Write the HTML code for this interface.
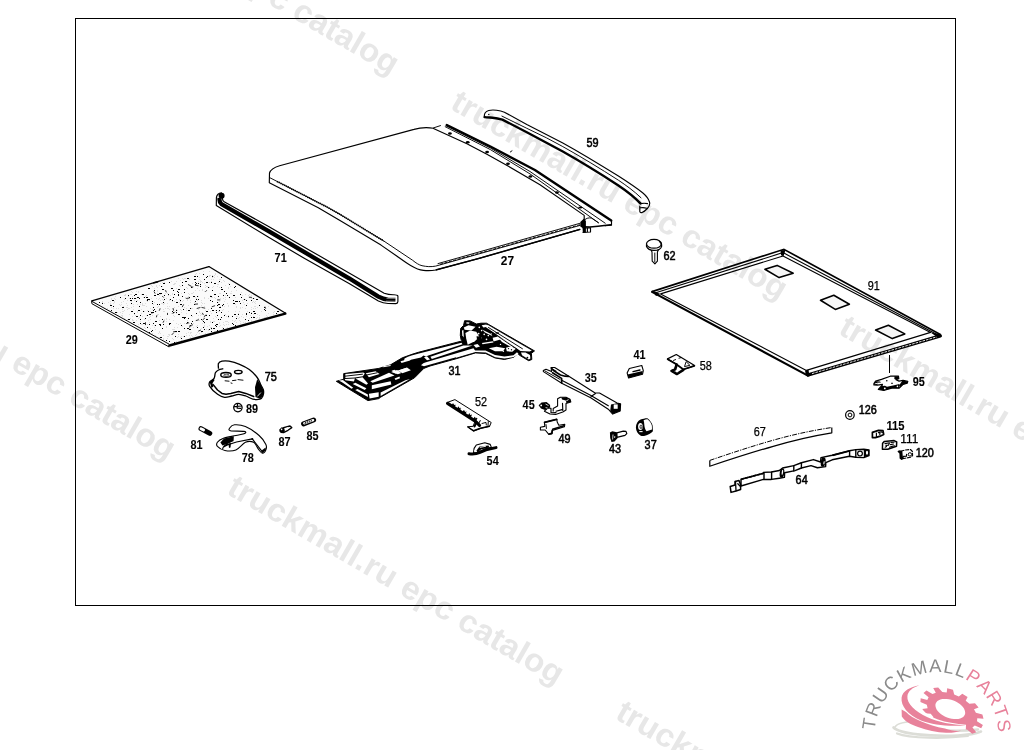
<!DOCTYPE html>
<html><head><meta charset="utf-8"><title>parts</title>
<style>
html,body{margin:0;padding:0;background:#fff;}
body{width:1024px;height:750px;overflow:hidden;position:relative;font-family:"Liberation Sans",sans-serif;}
svg{position:absolute;left:0;top:0;display:block;will-change:transform}
.wm text{font-family:"Liberation Sans",sans-serif;font-weight:bold;font-size:32.5px;fill:#e7e7e7;}
.lb text{font-family:"Liberation Sans",sans-serif;font-size:12px;fill:#000;stroke:#000;stroke-linejoin:round}
.lb .b{font-weight:bold;stroke-width:0.1}
.lb .m{font-weight:normal;stroke-width:0.55}
.lb .r{font-weight:normal;stroke-width:0.25}
.p{fill:none;stroke:#000;stroke-width:1.15;stroke-linecap:round;stroke-linejoin:round}
.t{fill:none;stroke:#000;stroke-width:0.95;stroke-linecap:round;stroke-linejoin:round}
.h{fill:none;stroke:#000;stroke-width:1.6;stroke-linecap:round;stroke-linejoin:round}
.hh{fill:none;stroke:#000;stroke-width:2.4;stroke-linecap:round;stroke-linejoin:round}
.w{fill:#fff;stroke:#000;stroke-width:1;stroke-linejoin:round}
.k{fill:#000;stroke:none}
</style></head><body>
<svg width="1024" height="750" viewBox="0 0 1024 750">
<g class="wm">
<text transform="translate(60.5 -117.0) rotate(30.2)" textLength="382.5" lengthAdjust="spacingAndGlyphs">truckmall.ru epc catalog</text>
<text transform="translate(-162.9 268.0) rotate(30.2)" textLength="382.5" lengthAdjust="spacingAndGlyphs">truckmall.ru epc catalog</text>
<text transform="translate(-386.2 653.0) rotate(30.2)" textLength="382.5" lengthAdjust="spacingAndGlyphs">truckmall.ru epc catalog</text>
<text transform="translate(672.2 -277.0) rotate(30.2)" textLength="382.5" lengthAdjust="spacingAndGlyphs">truckmall.ru epc catalog</text>
<text transform="translate(448.9 108.0) rotate(30.2)" textLength="382.5" lengthAdjust="spacingAndGlyphs">truckmall.ru epc catalog</text>
<text transform="translate(225.5 493.0) rotate(30.2)" textLength="382.5" lengthAdjust="spacingAndGlyphs">truckmall.ru epc catalog</text>
<text transform="translate(2.2 878.0) rotate(30.2)" textLength="382.5" lengthAdjust="spacingAndGlyphs">truckmall.ru epc catalog</text>
<text transform="translate(1060.5 -52.0) rotate(30.2)" textLength="382.5" lengthAdjust="spacingAndGlyphs">truckmall.ru epc catalog</text>
<text transform="translate(837.2 333.0) rotate(30.2)" textLength="382.5" lengthAdjust="spacingAndGlyphs">truckmall.ru epc catalog</text>
<text transform="translate(613.9 718.0) rotate(30.2)" textLength="382.5" lengthAdjust="spacingAndGlyphs">truckmall.ru epc catalog</text>
</g>
<rect x="75.5" y="18.5" width="880" height="587" fill="none" stroke="#000" stroke-width="1" shape-rendering="crispEdges"/>
<!-- 10_panel27.svg -->
<g id="p27">
<!-- outer outline -->
<path class="p" d="M433.5 128.2 C428 127.4 420 127.6 414 129.4 L279.6 165.7 C274.5 167.2 270.5 169.8 269.5 173 L269.3 182.8 L318.3 207.7 L340 220.5 L381 245.1 L396.7 256 C402 259.8 406.5 263.3 411.1 265.8 C415 268.2 419 270 423.4 270.4 C427.5 270.8 431.5 270.8 435.7 270 L480 258.1 L580 229.4"/>
<path d="M435.7 270 L480 258.1 L580 229.4" fill="none" stroke="#000" stroke-width="1.5"/>
<!-- inner left/bottom line -->
<path class="t" d="M269.6 177.6 L327.7 207.4 L340 214.4 L383.8 241 L412.5 260.2 C416 263 419 265 422 265.7 C426.5 266.7 431 267 435.7 266.1 L480 253.6 L580 225.4"/>
<path d="M277 181.4 L327.7 207.4 L340 214.4 L383.8 241" fill="none" stroke="#000" stroke-width="1.7" stroke-dasharray="1.1 0.9"/>
<path d="M440 264.3 L480 253 L580 224.7" fill="none" stroke="#000" stroke-width="0.9" stroke-dasharray="3 1.6"/>
<path class="t" d="M438 263.6 L480 251.7 L579.6 223.4"/>
<!-- right edge strip -->
<path class="p" d="M433.5 128.5 L466.9 143.7 L486.9 154.3 L508 166 L540 184.8 L584.2 215.4 L584.2 220"/>
<path class="t" d="M433.5 127.9 L440.5 125.6 M445.2 126.7 L490.4 149.6 L530 173.9 L598.4 222.7"/>
<path class="t" d="M446 125.8 L490.4 148 L530 171.5 L605.2 223.2"/>
<path class="hh" d="M446.8 125 L490.4 146.5 L534.9 170 L611.2 220.6"/>
<path class="p" d="M611.5 220.8 L611.5 225.2 L605.2 225.8"/>
<path class="h" d="M610.5 224.8 L598 226.2 L590 227 L584 226.8"/>
<path class="t" d="M584.7 219.8 C586.5 218 589 217.6 591.5 218.1 L598.4 222.7 M510.3 152 L512 150.8"/>
<path class="k" d="M580.3 222 L584 218.6 L585.9 221 L585.9 232.6 L582.8 232.6 L582.6 228 L580.3 226.5 Z"/>
<path class="p" d="M583 227.8 L590.5 227.8 L590.5 232 L583 232.5 M587.4 227.8 L587.4 232"/>
<g class="k">
<ellipse cx="449.9" cy="133.5" rx="1.9" ry="1.25"/><ellipse cx="467.7" cy="142.2" rx="1.9" ry="1.25"/>
<ellipse cx="487.1" cy="152" rx="1.9" ry="1.25"/><ellipse cx="508" cy="163.7" rx="1.9" ry="1.25"/>
<ellipse cx="530.4" cy="176.6" rx="1.9" ry="1.25"/><ellipse cx="556.9" cy="192.5" rx="1.9" ry="1.25"/>
<ellipse cx="580.3" cy="207.6" rx="2.1" ry="1"/>
</g>
</g>

<!-- 11_strip59.svg -->
<g id="p59">
<path class="p" d="M484.3 116.2 C484.2 113.8 485.6 111.5 488.7 110.5 C491.5 109.8 494 109.9 496.6 110.3 C499.5 110.8 502 111.4 504.4 112.2 L526.8 124.4 L562.8 142.9 C582 153.5 600 164.5 618.4 176.1 C627 181.6 635.5 187.3 642.6 192.8 C646 195.6 648.4 198.6 649.5 202 C650.2 204.6 649.3 206.6 647.4 208.5 C645.8 210.2 644 211.7 642.1 212.6 C641 212.9 640 212.4 639.8 211.4 L639.8 206.1"/>
<path class="hh" d="M484.6 117.1 C487 117.6 490 117.5 492.6 117.7 C496 118.1 499.4 118.8 502.4 119.6 L526.8 132.2 L562.8 151.5 C582 162.3 600 173.5 618.4 185.4 C626 190.5 634 196.4 640.4 203.4"/>
<path class="t" d="M501.9 116.1 L526.8 128.3 L546.4 137.8 L562.8 146.6 C582 157.3 600 168.4 618.4 180.2 C626 185.3 634 191 641 197.8"/>
<path class="p" d="M640.4 203.6 C642.5 203.2 645 203 647.5 203.6 M640.2 207.8 C642.5 207.4 644.8 207.5 646.6 208.2"/>
<circle class="k" cx="488.8" cy="114.4" r="0.7"/>
</g>

<!-- 12_strip71.svg -->
<g id="p71">
<path class="p" d="M221.5 192.9 C218.8 193 216.8 195 216.4 197.7 L216.3 205.5 L268.6 237.2 L303.8 258 L349.1 283.5 L378.4 301 C381.5 302.4 384.5 303.2 388.1 303.5 L395.9 303.6 C397.3 303.5 397.9 302.8 397.9 301.5 L397.9 295.9 C397.5 295 396.5 294.7 394 294.7 C390.5 294.8 387.3 294.3 384.2 293.2 L364.7 282 L310 250.4 L268.6 226.5 L224.6 202.1 C223 201 222.2 199.6 222.4 198"/>
<path d="M219.6 198 C219.2 200.5 219.6 202.6 221.5 204.2 L268.6 231.1 L310 255.4 L349.1 278.3 L378.4 296.6 C381.5 298.3 384.5 299.3 388.1 299.6 L395.5 299.9" fill="none" stroke="#000" stroke-width="4.3" stroke-linejoin="round"/>
<circle class="k" cx="221.6" cy="195.8" r="3"/>
<path d="M386.5 298.2 L396 298.3 M386 301.2 L396 301.3" fill="none" stroke="#fff" stroke-width="0.6"/>
</g>

<!-- 13_mat29.svg -->
<g id="p29">
<path d="M91.8 301.2L208.9 266.8L285.2 313.2L169.2 345.3Z" fill="#fafafa" stroke="none"/>
<path d="M143 297.5h1M174 283.5h1M183 300.5h1M140 321.5h1M132 319.5h1M110 303.5h1M204 323.5h1M126 307.5h1M236 322.5h1M190 300.5h1M209 271.5h1M213 286.5h1M121 302.5h1M191 326.5h1M159 320.5h1M195 297.5h1M162 286.5h1M118 308.5h1M204 298.5h1M174 316.5h1M169 299.5h1M236 306.5h1M166 318.5h1M219 322.5h1M199 290.5h1M215 274.5h1M199 320.5h1M149 317.5h1M150 328.5h1M224 301.5h1M217 286.5h1M218 305.5h1M194 302.5h1M259 315.5h1M198 315.5h1M155 329.5h1M242 324.5h1M209 287.5h1M188 318.5h1M133 320.5h1M123 301.5h1M159 332.5h1M129 308.5h1M204 326.5h1M138 318.5h1M223 322.5h1M251 312.5h1M158 310.5h1M201 328.5h1M214 277.5h1M133 306.5h1M158 314.5h1M181 293.5h1M127 319.5h1M179 314.5h1M253 301.5h1M199 311.5h1M176 281.5h1M254 306.5h1M253 308.5h1M169 306.5h1M154 325.5h1M108 302.5h1M131 301.5h1M138 292.5h1M107 308.5h1M134 314.5h1M163 338.5h1M176 288.5h1M150 308.5h1M146 295.5h1M264 317.5h1M184 307.5h1M113 303.5h1M154 302.5h1M201 281.5h1M169 341.5h1M166 290.5h1M159 285.5h1M227 327.5h1M244 304.5h1M152 309.5h1M172 329.5h1M213 318.5h1M149 300.5h1M259 318.5h1M251 309.5h1M242 307.5h1M160 316.5h1M138 291.5h1M120 312.5h1M176 323.5h1M236 290.5h1M273 314.5h1M230 286.5h1M137 304.5h1M133 304.5h1M232 320.5h1M225 295.5h1M228 315.5h1M154 327.5h1M255 306.5h1M215 298.5h1M174 329.5h1M192 325.5h1M234 287.5h1M211 329.5h1M190 285.5h1M121 304.5h1M257 307.5h1M173 332.5h1M254 298.5h1M176 313.5h1M111 298.5h1M252 298.5h1M224 325.5h1M209 325.5h1M204 283.5h1M146 306.5h1M166 319.5h1M156 311.5h1M178 336.5h1M169 309.5h1M228 322.5h1M211 327.5h1M191 308.5h1M156 285.5h1M159 295.5h1M155 335.5h1M150 316.5h1M218 302.5h1M171 313.5h1M216 317.5h1M149 322.5h1M144 305.5h1M220 298.5h1M215 316.5h1M231 291.5h1M202 303.5h1M204 315.5h1M186 310.5h1M219 326.5h1M239 317.5h1M221 282.5h1M228 324.5h1M200 280.5h1M142 316.5h1M122 309.5h1M154 327.5h1M250 315.5h1M166 327.5h1M180 286.5h1M266 315.5h1M191 335.5h1M176 309.5h1M268 306.5h1M146 315.5h1M179 299.5h1M141 309.5h1M178 278.5h1M190 302.5h1M122 315.5h1M204 303.5h1M176 341.5h1M256 318.5h1M127 309.5h1M158 333.5h1M136 298.5h1M210 327.5h1M207 286.5h1M181 336.5h1M211 313.5h1M110 301.5h1M204 297.5h1M173 339.5h1M226 316.5h1M169 335.5h1M167 336.5h1M172 301.5h1M226 324.5h1M135 298.5h1M172 294.5h1M120 305.5h1M116 308.5h1M153 304.5h1M202 289.5h1M165 293.5h1M136 291.5h1M125 294.5h1M219 301.5h1M152 315.5h1M209 275.5h1M219 293.5h1M213 321.5h1M177 310.5h1M245 322.5h1M196 326.5h1M222 306.5h1M167 303.5h1M111 305.5h1M159 331.5h1M137 300.5h1M168 334.5h1M243 302.5h1M145 303.5h1M163 311.5h1M146 315.5h1M196 334.5h1M245 294.5h1M195 335.5h1M157 307.5h1M124 318.5h1M186 308.5h1M156 316.5h1M116 312.5h1M135 315.5h1M102 301.5h1M147 301.5h1M201 305.5h1M228 306.5h1M241 316.5h1M164 303.5h1M217 276.5h1M224 306.5h1M163 335.5h1M242 300.5h1M238 313.5h1M150 319.5h1M214 321.5h1M247 311.5h1M227 321.5h1M223 309.5h1M124 295.5h1M137 312.5h1M169 334.5h1M205 310.5h1M216 310.5h1M151 285.5h1M240 308.5h1M192 308.5h1M175 283.5h1M197 288.5h1M124 310.5h1M193 286.5h1M251 320.5h1M179 302.5h1M200 315.5h1M227 303.5h1M174 284.5h1M131 307.5h1M202 290.5h1M160 283.5h1M122 311.5h1M222 310.5h1M193 292.5h1M188 305.5h1M157 291.5h1M211 281.5h1M274 311.5h1M132 320.5h1M259 317.5h1M166 298.5h1M189 335.5h1M162 319.5h1M150 319.5h1M212 276.5h1M225 297.5h1M247 303.5h1M188 332.5h1M152 286.5h1M133 322.5h1M169 300.5h1M137 311.5h1M193 327.5h1M152 333.5h1M199 279.5h1M252 302.5h1M218 284.5h1M167 306.5h1M251 295.5h1M168 308.5h1M130 294.5h1M169 334.5h1M197 332.5h1M143 305.5h1M167 293.5h1M208 330.5h1M255 308.5h1M234 321.5h1M242 295.5h1M180 280.5h1M211 297.5h1M228 305.5h1M131 294.5h1M209 276.5h1M174 301.5h1M184 323.5h1M224 281.5h1M192 293.5h1M187 300.5h1M126 303.5h1M186 333.5h1M168 295.5h1M271 316.5h1M157 293.5h1M124 299.5h1M141 294.5h1M142 305.5h1M225 321.5h1M210 295.5h1M181 310.5h1M163 304.5h1M123 311.5h1M214 275.5h1M199 312.5h1M209 282.5h1M145 303.5h1M174 307.5h1M265 308.5h1M195 274.5h1M152 330.5h1M231 293.5h1M162 282.5h1M208 329.5h1M251 312.5h1M223 280.5h1M119 304.5h1M205 314.5h1M254 302.5h1M225 314.5h1M188 310.5h1M158 333.5h1M190 333.5h1M191 293.5h1M129 308.5h1M219 311.5h1M114 301.5h1M198 309.5h1M156 298.5h1M164 282.5h1M164 311.5h1M251 298.5h1M230 293.5h1M140 304.5h1M255 301.5h1M132 292.5h1M201 314.5h1M162 299.5h1M239 320.5h1M124 295.5h1M165 308.5h1M187 288.5h1M240 308.5h1M168 294.5h1M228 283.5h1M205 285.5h1M177 327.5h1M199 333.5h1M165 293.5h1M152 312.5h1M240 321.5h1M141 313.5h1M192 336.5h1M115 299.5h1M132 316.5h1M261 311.5h1M251 321.5h1M225 285.5h1M186 335.5h1M182 278.5h1M198 296.5h1M162 303.5h1M115 296.5h1M153 307.5h1M212 275.5h1M219 279.5h1M197 325.5h1M220 293.5h1M136 320.5h1M206 329.5h1M144 311.5h1M199 273.5h1M202 323.5h1M185 278.5h1M104 303.5h1M218 282.5h1M246 316.5h1M154 302.5h1M249 297.5h1M178 324.5h1M152 303.5h1M152 333.5h1M245 299.5h1M203 271.5h1M157 314.5h1M273 312.5h1M158 299.5h1M180 309.5h1M213 279.5h1M240 307.5h1M245 308.5h1M188 296.5h1M158 306.5h1M189 279.5h1M174 327.5h1M128 296.5h1M141 324.5h1M205 333.5h1M267 316.5h1M132 296.5h1M144 319.5h1M208 298.5h1M153 312.5h1M215 310.5h1M242 314.5h1M179 285.5h1M212 287.5h1M187 299.5h1M193 286.5h1M142 304.5h1M178 334.5h1M185 297.5h1M214 331.5h1M170 295.5h1M235 304.5h1M215 273.5h1M210 321.5h1M257 314.5h1M122 313.5h1M123 306.5h1M248 295.5h1M228 287.5h1M226 293.5h1M182 326.5h1M210 275.5h1M208 309.5h1M147 310.5h1M127 305.5h1M169 319.5h1M184 289.5h1M121 315.5h1M186 287.5h1M146 300.5h1M225 299.5h1M110 304.5h1M181 312.5h1M174 284.5h1M166 326.5h1M163 300.5h1M201 332.5h1M173 315.5h1M167 308.5h1M266 317.5h1M151 298.5h1M192 286.5h1M163 339.5h1M204 323.5h1M207 326.5h1M159 293.5h1M138 324.5h1M235 320.5h1M152 325.5h1M175 311.5h1M133 309.5h1M223 324.5h1M144 319.5h1M257 317.5h1M127 300.5h1M273 314.5h1M154 288.5h1M228 288.5h1M243 299.5h1M200 281.5h1M200 285.5h1M204 325.5h1M202 282.5h1M150 311.5h1M182 301.5h1M128 308.5h1M243 317.5h1M142 324.5h1M184 278.5h1M199 279.5h1M204 306.5h1M189 294.5h1M186 313.5h1M192 316.5h1M178 306.5h1M144 327.5h1M168 295.5h1M239 311.5h1M160 294.5h1M157 290.5h1M142 316.5h1M139 317.5h1M156 286.5h1M173 284.5h1M235 311.5h1M157 287.5h1M180 301.5h1M213 276.5h1M265 317.5h1M238 313.5h1M190 337.5h1M222 327.5h1M211 279.5h1M253 316.5h1M129 314.5h1M192 283.5h1M217 284.5h1M198 281.5h1M220 325.5h1M139 306.5h1M176 299.5h1M113 308.5h1M183 336.5h1M238 318.5h1M173 329.5h1M148 320.5h1M194 296.5h1M235 297.5h1M226 321.5h1M181 340.5h1M196 298.5h1M205 287.5h1M249 294.5h1M193 323.5h1M158 294.5h1M183 279.5h1M206 286.5h1M240 323.5h1M210 311.5h1M131 291.5h1M111 307.5h1M197 300.5h1M219 323.5h1M127 307.5h1M171 281.5h1M122 316.5h1M134 313.5h1M164 319.5h1M177 291.5h1M201 302.5h1M180 337.5h1M134 300.5h1M154 325.5h1M251 307.5h1M160 300.5h1M145 328.5h1M185 298.5h1M201 300.5h1M255 303.5h1M191 332.5h1M140 323.5h1M159 298.5h1M160 333.5h1M138 324.5h1M212 277.5h1M163 321.5h1M200 313.5h1M200 282.5h1M153 304.5h1M167 338.5h1M236 307.5h1M159 337.5h1M214 297.5h1M212 297.5h1M129 298.5h1M125 295.5h1M189 323.5h1M236 316.5h1M195 290.5h1M190 302.5h1M223 298.5h1M173 320.5h1M220 279.5h1M196 273.5h1M142 303.5h1M249 318.5h1M204 291.5h1M219 287.5h1M190 332.5h1M218 311.5h1M243 322.5h1M210 322.5h1M237 316.5h1M198 318.5h1M182 296.5h1M166 321.5h1M172 338.5h1M114 298.5h1M177 337.5h1M145 296.5h1M102 302.5h1M220 306.5h1M228 311.5h1M147 324.5h1M197 325.5h1M253 314.5h1M168 336.5h1M268 313.5h1M123 307.5h1M111 299.5h1M251 309.5h1M228 317.5h1M188 293.5h1M114 302.5h1M196 285.5h1M163 309.5h1M117 312.5h1M180 323.5h1M161 303.5h1M241 292.5h1M237 301.5h1M130 318.5h1M202 320.5h1M187 320.5h1M172 293.5h1M199 277.5h1M200 282.5h1" fill="none" stroke="#dcdcdc" stroke-width="1" shape-rendering="crispEdges"/>
<path d="M111 310.5h1M133 322.5h2M234 314.5h2M232 323.5h1M173 290.5h1M219 281.5h1M155 325.5h1M223 328.5h1M193 296.5h2M265 310.5h1M191 315.5h1M139 306.5h1M203 327.5h1M212 276.5h1M159 304.5h1M226 293.5h1M147 315.5h1M171 288.5h2M219 310.5h1M181 325.5h1M248 320.5h1M189 297.5h1M147 299.5h1M163 324.5h1M211 331.5h1M210 296.5h1M175 336.5h1M148 311.5h1M160 337.5h2M210 300.5h1M159 293.5h2M115 312.5h2M218 304.5h2M240 303.5h1M219 307.5h2M164 299.5h1M214 283.5h2M222 305.5h1M227 295.5h1M196 299.5h1M221 287.5h1M176 310.5h1M140 323.5h1M245 319.5h1M162 289.5h2M209 315.5h1M228 316.5h1M211 328.5h1M221 277.5h1M223 304.5h1M153 310.5h1M128 319.5h2M216 310.5h1M131 311.5h2M240 294.5h1M277 311.5h2M130 300.5h1M233 303.5h2M221 312.5h1M182 317.5h2M170 299.5h1M218 296.5h1M154 309.5h1M256 299.5h2M149 332.5h1M184 318.5h1M181 304.5h1M197 296.5h1M197 276.5h1M195 282.5h1M169 282.5h1M125 298.5h1M132 298.5h1M206 282.5h2M146 297.5h2M198 283.5h1M236 318.5h1M169 324.5h1M211 296.5h1M178 295.5h1M223 295.5h1M216 324.5h2M136 301.5h1M138 310.5h2M232 316.5h1M217 330.5h1M143 311.5h1M102 303.5h1M194 279.5h2M216 324.5h1M151 312.5h1M197 327.5h1M191 323.5h1M153 307.5h1M218 319.5h1M172 311.5h1M173 297.5h1M253 298.5h1M157 304.5h1M181 338.5h1M187 278.5h2M161 286.5h1M112 300.5h2M212 310.5h2M211 308.5h1M169 323.5h2M179 289.5h1M224 291.5h1M246 300.5h1M204 279.5h1M178 294.5h1M120 297.5h1M191 315.5h1M190 308.5h1M214 294.5h2M148 288.5h2M235 325.5h1M180 304.5h1M140 319.5h1M198 299.5h1M182 285.5h1M130 300.5h2M151 331.5h1M201 319.5h1M192 321.5h1M185 281.5h2M216 326.5h1M203 274.5h1M99 302.5h1M163 302.5h1M264 307.5h1M201 331.5h2M161 293.5h1M184 317.5h2M206 319.5h2M259 305.5h1M134 295.5h1M246 305.5h1M233 300.5h1M233 324.5h1M188 318.5h1M208 287.5h1M152 303.5h1M221 317.5h1M139 298.5h1M189 329.5h2M142 294.5h2M200 284.5h1M135 294.5h2M164 295.5h1M163 283.5h2M154 290.5h1M200 286.5h1M233 295.5h2M168 294.5h1M131 303.5h1M178 314.5h2M246 313.5h1M174 342.5h1M221 289.5h2M196 283.5h1M173 312.5h1M122 307.5h2M178 292.5h1M213 328.5h1M128 295.5h1M235 286.5h1M143 323.5h2M212 322.5h1M239 301.5h1M182 282.5h1M206 311.5h2M179 331.5h1M276 313.5h1M184 336.5h1M143 323.5h1M194 276.5h2M113 306.5h1M251 300.5h1M195 301.5h1M176 302.5h2M145 318.5h1M204 322.5h1M215 325.5h1M175 331.5h1M264 309.5h1M253 317.5h2M236 301.5h2M229 284.5h1M196 313.5h1M187 322.5h1M217 302.5h1M157 294.5h2M154 295.5h1M182 296.5h1M134 298.5h2M206 277.5h1M224 315.5h1M220 319.5h1M140 302.5h1M164 299.5h1M207 276.5h1M155 295.5h1M159 324.5h2M212 290.5h1M203 321.5h1M149 314.5h2M162 319.5h1M229 297.5h1M191 287.5h1M254 313.5h2M195 284.5h1M216 312.5h1M177 291.5h1M212 301.5h1M180 300.5h1M253 311.5h2M136 316.5h2M160 325.5h1M178 331.5h1M152 330.5h1M204 329.5h1M162 328.5h1M246 314.5h1M137 297.5h2M148 288.5h1M169 341.5h1M178 289.5h1M184 328.5h1M166 340.5h1M187 328.5h2M206 315.5h1M143 294.5h1M110 305.5h2M217 315.5h1M140 315.5h1M174 294.5h1M155 321.5h2M175 331.5h2M217 305.5h1M209 329.5h1M152 301.5h1M238 314.5h1M249 312.5h1M144 297.5h1M155 311.5h1M176 312.5h1M147 300.5h1M152 312.5h2M251 317.5h1M251 313.5h1M147 327.5h1M244 299.5h1M184 292.5h1M214 328.5h1M134 313.5h1M153 323.5h1M149 324.5h1M183 309.5h1M241 297.5h1M130 298.5h1M235 301.5h1M184 289.5h1M188 310.5h2M172 300.5h1M148 299.5h2M234 287.5h1M184 336.5h1M194 304.5h1M211 282.5h1" fill="none" stroke="#000" stroke-width="1" shape-rendering="crispEdges"/>
<path d="M195.4 285.3l2.9 0.4M154.2 291.8l0.8 1.5M188.3 284.6l2.4 1.4M191.6 286.2l1.0 1.3M214.7 305.8l-2.6 0.9M206.0 315.2l-1.9 1.4M204.6 318.2l-1.9 1.7M173.7 331.6l2.8 0.0M197.6 304.0l-2.5 0.2M198.5 319.8l-2.3 0.7M173.1 308.4l0.4 1.9M160.0 308.7l-0.4 1.5M188.7 322.8l-2.1 0.7M162.5 296.3l1.0 1.0M201.9 307.5l2.9 0.6M192.5 324.8l-2.7 1.1M153.0 312.7l-1.5 0.3M145.5 322.6l0.0 2.1M219.9 299.9l-2.4 0.0M202.5 313.2l0.7 1.4M189.1 298.1l-2.6 0.3M165.5 290.6l0.8 1.4M200.0 307.6l-2.9 0.8M183.5 304.7l-1.2 2.1M174.3 312.5l-1.5 0.7M200.6 330.1l-2.0 0.9M173.5 333.0l-1.6 1.7M265.1 307.0l0.4 1.2M167.5 313.3l-0.0 1.3M163.9 321.0l-0.7 1.4M249.3 297.2l2.2 0.2M206.5 290.6l-0.8 0.9M190.4 325.4l-0.7 1.8M156.8 315.6l-0.3 1.3" fill="none" stroke="#000" stroke-width="0.8" stroke-linecap="round"/>
<path class="h" d="M91.8 300.9L208.9 266.6" style="stroke-width:1.4"/>
<path class="p" d="M208.9 266.6L285.2 313"/>
<path d="M169.4 345.5L285.3 313.6" fill="none" stroke="#000" stroke-width="2.4" stroke-linecap="round"/>
<path d="M91.6 301.2L169 344.1M91.6 301.2L91.9 303.7L169.2 347" fill="none" stroke="#000" stroke-width="1" stroke-linejoin="round"/>
<path class="k" d="M153 282.3L158 280.9L158.3 282.4L153.3 283.8Z"/>
</g>

<!-- 14_frame91.svg -->
<g id="p91">
<path d="M652 291.6L783.9 249.3L940.8 334.8" fill="none" stroke="#000" stroke-width="1.7" stroke-linejoin="miter"/>
<path d="M652 291.9L807.9 375.6" fill="none" stroke="#000" stroke-width="2.1" stroke-linecap="round"/>
<path d="M808.3 374.9L940.3 335.9" fill="none" stroke="#000" stroke-width="3.4" stroke-linecap="round"/>
<path d="M812 373.6L937 336.8" fill="none" stroke="#fff" stroke-width="0.9" stroke-dasharray="2.6 1"/>
<path class="p" d="M655 293L783 252.6L936.5 334.2" style="stroke-width:1.1"/>
<path class="p" d="M660.6 293.9L783 256L930.6 332.4L806.4 370.4Z" style="stroke-width:1.1"/>
<path class="k" d="M652 290.5L660.6 293.9L656 296Z M780.5 250.2L785.5 250L783.5 256.3L781 255.2Z M805 370.5L808.5 369.8L809.5 376.3L806 376Z M930.6 332.4L940.8 334.2L937 337Z"/>
<g fill="#f6f6f6" stroke="#000" stroke-width="1.6" stroke-linejoin="round">
<path d="M764.9 269.3L777.1 265.4L793.2 273.2L779.1 277.6Z"/>
<path d="M820.5 300.3L833.8 295.3L849.4 304.2L835.3 309.4Z"/>
<path d="M875.6 330L888.4 325.3L904.8 333.9L892.3 338.6Z"/>
</g>
<path class="p" d="M889.3 355.2L889.3 373" shape-rendering="crispEdges"/>
</g>

<!-- 20_part31.svg -->
<g id="p31">
<!-- left base plate -->
<path d="M336.3 381.3L343.7 379.3L343.7 373.6L378.9 368.4L390.6 364.8L402.3 357.8L412 354.3L418.4 352.3L462.2 340.9L461 339.5L460.3 335.3L460.7 328.3L463.5 325.5L464.6 320.7L470.1 320.9L476.3 324L481 323.2L486.5 323.2L534.5 350.9L531.4 353.3L531.8 359.5L528.7 360.7L520.1 355.6L517.7 353.6L513.8 357.2L504.4 359.5L495.1 358L485.7 353.5L475.5 352.9L456 358.8L430 366L423.8 368.4L414.5 377.8L380.2 397.4L378.9 398.6L367.9 400.6Z" fill="#000" stroke="#000" stroke-width="1" stroke-linejoin="round"/>
<g fill="#fff" stroke="none">
<!-- left end whites -->
<path d="M345.4 374L363.3 372.4L364.8 373.4L362.9 376.2L354.7 377.6L345.4 378Z"/>
<path d="M365.8 373.2L375.6 371.3L379.6 374L368.9 377.2Z"/>
<path d="M344.9 379L354.9 378.5L353.9 381.4L345.3 380.3Z"/>
<path d="M338.8 380.6L342.9 380L353.2 387.8L351.5 388.8L342 382.2Z"/>
<path d="M355.4 378.6L362.5 377.2L368 383.5L366.4 384.8Z"/>
<path d="M352.7 384L355.4 382.8L366.4 388.3L364.8 389.9Z"/>
<path d="M355.2 390L357.5 389L367.9 394.4L367.9 397Z"/>
<path d="M368.9 393.8L378.7 392.3L378.7 396.8L369.6 398.6Z"/>
<path d="M370.3 381.3L389 372.7L394.5 375.4L372.6 382.8Z"/>
<path d="M371.8 385.2L390.6 381.2L391.4 384.4L371.8 389.2Z"/>
<path d="M380.6 392.5L405.4 380.3L410 378.9L380.6 396Z"/>
<path d="M391.6 370.8L394.5 369.8L398 372.7L395.3 373.6Z"/>
<path d="M394.6 378.6L399.5 376.6L400 378.2L395.5 380Z"/>
<path d="M383.2 366.3L390.6 365.1L390.6 365.9L383.4 367.2Z"/>
<!-- mid arm whites -->
<path d="M398.4 370.6L407 367.6L410.9 370.2L402.3 373.3Z"/>
<path d="M391 372L397 370L401.5 373L397.8 374.3Z"/>
<path d="M400.5 361.3L411.8 358.2L410 360.4L401.5 363Z"/>
<path d="M396.5 371L406.5 367.7L407.6 368.7L398.6 371.7Z"/>
<path d="M404.5 358.6C409 356 414 354.7 419 353.6L461.5 342.8L462.5 344.3L429 355.2L425.8 356.6L423.5 355.6L421 357.4L404 361.2Z"/>
<path d="M430.4 356.8L463.4 345.4L472.6 345.6L431.8 359Z"/>
<path d="M424 357.2L427 356.2L430 359.4L427 360.2Z"/>
<path d="M421 365.3C422.5 363.4 424 362.8 426 362.2L473.5 348.2L475.5 351.3L456 357.3L424 366.2Z"/>
<!-- right end whites -->
<path d="M463.8 327.5L468.5 325.2L475.5 326.7L471.6 330.6L464.6 329.8Z"/>
<path d="M465.4 333L470.1 330.6L476.3 331.8L479.4 336.9L474.8 341.2L467.7 344.7L466.2 338.4Z"/>
<path d="M462 330.5L463.4 330L463.8 337.5L462.3 335.5Z"/>
<path d="M466.5 322.3L469.5 322.4L469 323.8L466.3 323.6Z"/>
<path d="M481.6 325.2L486.2 324.6L489 326.5L483.4 327.5Z"/>
<path d="M487.6 324.8L531.8 350.6L529.6 351.6L520.5 351L486 327.2Z"/>
<path d="M482 329.5L490 333.5L492.6 336.3L485 332.6Z"/>
<path d="M492.7 337.7L498.2 336.5L501.3 339.2L493.5 341.6Z"/>
<path d="M481.8 343.1L492.7 341.2L493.5 342.4L482.6 344.3Z"/>
<path d="M496.5 335.6L505 340L513.5 346.5L512 347.5L502 342Z"/>
<path d="M488.8 348.3L496.6 346.7L505.2 348.3L502.9 351.2L495 351.3Z"/>
<path d="M506 347.8L510.7 346.3L516.2 348.6L512.3 351.7L506.8 351.3Z"/>
<path d="M473.5 345L477.5 344L480 346.6L476 347.8Z"/>
<path d="M456 355.2L473.2 350.4L485.5 350.4L495 355L504.4 356.6L513.5 355.2L517 352.2L518.6 354L513.8 357L504.4 358.6L495.3 357.2L485.9 352.6L475.5 352L456 357.7Z"/>
<path d="M521 352.6L525.5 352.4L530 355L530.4 358.6L528.8 359.4L522 355.2Z"/>
<circle cx="479.3" cy="327.4" r="0.8"/><circle cx="481.6" cy="330.6" r="0.8"/><circle cx="478.6" cy="333.6" r="0.9"/><circle cx="484.2" cy="334.4" r="0.8"/><circle cx="488.3" cy="335.6" r="0.8"/><circle cx="491.2" cy="334" r="0.7"/><circle cx="480.5" cy="338" r="1"/><circle cx="486.5" cy="339.4" r="0.8"/><circle cx="500.5" cy="344.4" r="0.7"/><circle cx="503.4" cy="351.2" r="0.7"/>
</g>
<g class="t">
<path d="M488.5 327.5L522.5 348.8M491 331.5L518 350"/>
<path d="M345 376.2L362.5 374.2M366.5 375L377 372.8"/>
</g>
<g class="k"><rect x="495.5" y="332.2" width="3.6" height="1.4" transform="rotate(8 497 333)"/><circle cx="527.4" cy="357.6" r="0.9"/><circle cx="508.5" cy="348.6" r="0.7"/><circle cx="511.5" cy="349.8" r="0.7"/><path d="M476.5 336.2L481 336.6L481.8 339.4L477 339.6Z"/></g>
</g>

<!-- 30_p75.svg -->
<g id="p75">
<path d="M223.3 368.7C222.5 368.9 219.8 369.3 218.5 370.0C217.2 370.7 216.1 371.3 215.4 372.7C214.7 374.1 215.1 376.9 214.1 378.4C213.1 379.9 210.4 380.6 209.7 381.9C209.0 383.2 208.4 384.2 209.7 386.3C211.0 388.4 215.1 392.5 217.6 394.3C220.1 396.1 222.2 397.0 224.6 397.3C226.9 397.6 229.3 396.5 231.7 396.0C234.0 395.5 236.3 394.3 238.7 394.3C241.0 394.3 243.5 395.2 245.8 396.0C248.2 396.8 250.5 398.6 252.8 399.1C255.2 399.6 258.2 399.6 259.9 399.1C261.6 398.6 262.3 397.5 262.9 396.0C263.5 394.5 263.8 391.8 263.4 389.9C263.0 388.0 261.7 386.7 260.7 384.6C259.7 382.5 259.1 380.0 257.2 377.5C255.3 375.0 252.2 371.8 249.3 369.6C246.4 367.4 243.0 365.7 239.6 364.3C236.2 362.9 231.9 361.7 229.0 361.2C226.1 360.7 223.8 360.8 222.0 361.2C220.2 361.6 219.1 362.1 218.5 363.4C217.9 364.6 218.5 367.8 218.5 368.7" fill="#fff" stroke="#000" stroke-width="1.3" stroke-linejoin="round"/>
<path class="k" d="M257.2 379.3L260.7 384.6L263.4 389.9L262.9 396L259.9 398.7L255.5 396.9L255 387.2Z"/>
<path d="M257.3 396.4L260.8 392.6" stroke="#fff" stroke-width="0.9" fill="none"/>
<path class="k" d="M209.7 381.9L213.4 378.8L214.6 380L212.5 383.2L213.4 386.6L211.5 388Z"/>
<path class="h" d="M213.2 384.6L217.5 390L222 393.4L226 394.2L230.8 393.4L238.7 391.6L245.8 393.4L253.7 396.5" style="stroke-width:1.5"/>
<ellipse cx="226" cy="374.9" rx="5.2" ry="2.3" fill="#fff" stroke="#000" stroke-width="1.5"/>
<ellipse cx="226.4" cy="375.2" rx="2.8" ry="1" fill="none" stroke="#000" stroke-width="0.7"/>
<ellipse cx="238.3" cy="372.1" rx="3.8" ry="1.7" fill="#fff" stroke="#000" stroke-width="1.4"/>
<path class="t" d="M225.1 380.8L229 381.2M232.5 380.6L236 380.2M238 379.6L243 380.2M231 383L232 383.3" />
</g>
<g id="p89">
<circle cx="237.9" cy="407.6" r="4.2" fill="#fff" stroke="#000" stroke-width="1.3"/>
<path class="h" d="M234.3 406.6L241.5 406M237.5 403.8L237.2 408.2L240.6 408.4" style="stroke-width:1.2"/>
</g>
<g id="p81">
<path d="M201 428.6L209.8 433.4" fill="none" stroke="#000" stroke-width="5" stroke-linecap="round"/>
<path d="M201 428.7L203.6 430.1" fill="none" stroke="#fff" stroke-width="2.8" stroke-linecap="round"/>
</g>
<g id="p78">
<path d="M229.7 428.0C230.4 427.0 231.9 425.0 234.5 424.8C237.1 424.6 241.3 424.8 245.4 426.6C249.5 428.4 255.7 432.5 259.1 435.5C262.5 438.5 264.8 442.0 265.9 444.4C267.0 446.8 266.5 448.4 265.9 449.9C265.3 451.4 263.8 453.4 262.5 453.3C261.2 453.2 259.9 451.0 258.4 449.2C256.9 447.4 255.8 443.4 253.6 442.3C251.4 441.2 248.3 441.0 245.4 442.3C242.5 443.6 239.3 448.5 235.9 449.9C232.5 451.3 228.0 451.1 224.9 450.5C221.8 449.9 218.7 447.8 217.4 446.4C216.2 445.0 216.4 443.7 217.4 442.3C218.4 440.9 220.4 439.3 223.5 438.2C226.6 437.1 232.4 436.3 235.9 435.5C239.4 434.7 243.3 434.2 244.7 433.5C246.1 432.8 246.5 431.9 244.1 431.4C241.7 430.9 232.8 431.3 230.4 430.7C228.0 430.1 229.0 429.0 229.7 428.0Z" fill="#fff" stroke="#000" stroke-width="1.1" stroke-linejoin="round"/>
<path class="k" d="M220.4 442.6L224 438.6L233.8 436.3L233.6 441L228.5 443.6L222.5 445.5Z"/>
<path class="p" d="M223.5 447.1C227 444.5 232 443.3 236.5 442L252.3 438.9L261.8 451.2M222.6 449C223.2 446 225 444.6 227.5 444.2"/>
<path class="k" d="M228.4 443.6L231 443L230.5 447.5L229 448Z"/>
<circle class="k" cx="252.3" cy="438.9" r="1"/><path class="k" d="M261 451L265.6 447.5L265.9 449.9L262.5 453.3Z"/>
</g>
<g id="p87">
<path d="M280.5 430.6L283.5 427.6L290 426L291.8 427.6L288 430.3L283.5 432.6L281 432.4Z" fill="#fff" stroke="#000" stroke-width="1.3" stroke-linejoin="round"/>
<path class="k" d="M279.4 429.5L281.6 427.2L284.2 428L285 431.5L281.5 432.8L279.4 431.6Z"/>
<circle cx="281.6" cy="429.4" r="0.8" fill="#fff"/><circle cx="287.4" cy="428.2" r="0.9" fill="#fff"/>
</g>
<g id="p85">
<path d="M303.6 423.8L313.6 420" fill="none" stroke="#000" stroke-width="5" stroke-linecap="round"/>
<path d="M304.2 423.4L313.2 420.1" fill="none" stroke="#fff" stroke-width="2.2" stroke-linecap="round"/>
<path d="M305 424L305.6 421.8M307 423.4L307.5 421.2M309 422.6L309.5 420.6M311 421.8L311.4 420" fill="none" stroke="#000" stroke-width="0.9"/>
</g>

<!-- 31_mid.svg -->
<g id="p52">
<path d="M446.9 402.6L454.9 399.6L491.2 422.5L489.6 426.3L480.5 428.4L473.6 431.1L467.7 426.8L473.1 426.3L475.2 421Z" fill="#fff" stroke="#000" stroke-width="1" stroke-linejoin="round"/>
<path d="M447.6 403.4L475.2 421.2L479.5 425.4" fill="none" stroke="#000" stroke-width="3.2" stroke-linecap="round" stroke-linejoin="round"/>
<path d="M452 404.6L480 422" fill="none" stroke="#000" stroke-width="3.4" stroke-dasharray="3.4 3"/>
<path d="M451 402.2L476 418" fill="none" stroke="#fff" stroke-width="0.9" stroke-dasharray="2 4.4" stroke-dashoffset="-3"/>
<path class="h" d="M467.9 427L473.6 430.8L480.5 428.2L489.4 426.2" style="stroke-width:1.5"/>
<path class="h" d="M476.5 422L474.5 426.4" style="stroke-width:2.2"/>
<path class="t" d="M482 423.5L486 422.4L486.3 425M488.3 421.5L488 425.5"/>
</g>
<g id="p54">
<path d="M474.1 448.4L476.3 445L484.8 442.8L490.2 444.4L491.4 447.4L484 449.4L477 452.5L473.5 453Z" fill="#fff" stroke="#000" stroke-width="1.1" stroke-linejoin="round"/>
<path d="M469 453.8C473 454.4 477 453.8 480 452.4L486 449.8L496 447.6" fill="none" stroke="#000" stroke-width="3" stroke-linecap="round"/>
<path class="k" d="M476.5 450.4L479.5 446.6L488.5 445.4L489.5 447.6L481 449.6L477.5 452.5Z"/>
<path d="M479.8 447.4L486 446.2" stroke="#fff" stroke-width="0.9" fill="none"/>
<path d="M474.4 451.4L475.8 449.4" stroke="#fff" stroke-width="1.1" fill="none"/>
</g>
<g id="p45">
<path d="M550 406L544.4 411.2L550 414L555.6 414.4L562.8 412L566 410L566 403.6L570.8 402L570 399.2L566 397.2L560.4 397.2L557.6 398.8L557.6 406L553.2 408.4L553.2 411.6" fill="#fff" stroke="#000" stroke-width="1.1" stroke-linejoin="round"/>
<path class="k" d="M561.4 397.4L566 397.2L570 399.2L570.8 402L566.5 403.2L565.8 400.4L562 399.6Z"/>
<path d="M566.3 400.8L568.6 399.6" stroke="#fff" stroke-width="0.9" fill="none"/>
<path class="p" d="M548.5 408L551 408.4L551 412.8L556 412.6M562.5 403.4L562.8 410.5M556 411.2L562 409.6"/>
<path class="k" d="M538.6 405.2L541.5 402.6L546.5 402L550.2 405L549.5 408L545 410L541 408.4Z"/>
<circle cx="541.2" cy="405.4" r="0.9" fill="#fff"/><path d="M545.5 404L548.5 405.6M545.6 407.6L547.6 408" stroke="#fff" stroke-width="0.8" fill="none"/>
</g>
<g id="p49">
<path d="M544.4 422.4L556.8 419.2L557.2 422L558.8 425.2L564.8 424.4L564.4 426.8L552.4 430.4L552 433.6L548.8 434.4L545.2 430L540.4 430L540.4 427.2L544.8 426.4Z" fill="#fff" stroke="#000" stroke-width="1.1" stroke-linejoin="round"/>
<path class="h" d="M544.6 422.4L556.6 419.4M552.6 429.2L564 425.8M549.2 434L551.8 433.4L552.2 430.6" style="stroke-width:1.7"/>
<path class="t" d="M546 424.5L546.4 428.5"/>
</g>
<g id="p35">
<path d="M543.3 370.5L546 369.2L551.5 371.6L551.2 367.5L554.7 367.5L568.8 376.3L595.1 393L599.5 393L617.1 403.1L620.6 403.9L620.2 411L612.7 414.1L608.3 409.2L590.7 397.8L561.7 383.3L543.4 371.6Z" fill="#fff" stroke="#000" stroke-width="1.1" stroke-linejoin="round"/>
<path class="k" d="M611 404.5L617 403.2L620.6 403.9L620.2 411L612.7 414.1L610.2 410.8Z"/>
<rect x="613.7" y="404.4" width="4" height="4.4" fill="#fff"/>
<path class="h" d="M551.4 368L553.6 370.6L560.5 375L565 376.2L568.5 376.4M552.5 372.8L561.6 378.4L561.7 383" style="stroke-width:1.7"/>
<path class="p" d="M561.7 380.2L590.5 395.3L608.3 405.8M591 396.6L595.5 393.6M553 369.6L556 371.2"/>
<path class="t" d="M545 371L560 379.4"/>
</g>
<g id="p41">
<path d="M629.3 368.5L641.8 365.5L643.3 370.7L642.5 374.3L628.6 378L627.1 372.9Z" fill="#fff" stroke="#000" stroke-width="1.1" stroke-linejoin="round"/>
<path class="k" d="M627.6 374.6L642.6 371L642.5 374.3L628.6 378Z"/>
<path class="h" d="M633 371.6L640 370" style="stroke-width:1.3"/>
</g>
<g id="p58">
<path d="M667.5 358.9L676.3 354.5L694.6 365.5L690.5 367.3L684.3 369.2L677 374.3L671.1 370.7L674.8 369.2L676.3 364.1Z" fill="#fff" stroke="#000" stroke-width="1.2" stroke-linejoin="round"/>
<path class="h" d="M667.7 359.2L676.3 364.2L683.5 369.4M684.5 369L694.3 365.8" style="stroke-width:1.8"/>
<path d="M676.6 364.6L675.2 369.4L671.6 370.9L677 374L683.4 369.8" fill="none" stroke="#000" stroke-width="2.6" stroke-linejoin="round" stroke-linecap="round"/>
<path class="t" d="M686 362L684.5 366.6L689.5 365.4ZM673.5 360.4L675.6 359.6M679 358.2L681 357.6"/>
<circle cx="677" cy="371.3" r="1.1" fill="#fff"/>
</g>
<g id="p43">
<path d="M616.9 432.8L623.2 431.2L626 431.4L626.8 433.6L625 435.4L616.9 437.4Z" fill="#fff" stroke="#000" stroke-width="1.2" stroke-linejoin="round"/>
<path class="k" d="M609.9 432.4L612.3 431.2L616.9 432.2L617.3 438.6L614.5 441.4L611.5 441.9L610.2 438Z"/>
<path d="M613 434.5L612.6 439.5M614.8 436L614.6 438" stroke="#fff" stroke-width="0.8" fill="none"/>
</g>
<g id="p37">
<path class="k" d="M640.6 419.6C643 418.6 646 418 647.4 418.2C650 420 652 423 652.6 425.5L652.9 431.3C651 433.5 648 435 645 435.8C643 436.2 641.5 436 640.4 435.4C637.8 434 636 431 635.9 427.5C635.9 424 637.6 421 640.6 419.6Z"/>
<path d="M643.6 420.2C645 419.4 646.5 419.2 647.5 419.3C649.8 421 651.4 423.6 651.9 425.8L652 429.4L646.5 431.2C645 429.5 644.4 427 644.3 424.6C644.2 423 644 421.4 643.6 420.2Z" fill="#fff"/>
<ellipse cx="640.4" cy="426.6" rx="2.3" ry="3.5" fill="#fff"/>
<ellipse cx="641" cy="426.8" rx="1" ry="1.8" fill="none" stroke="#000" stroke-width="0.8"/>
<path d="M639.3 431.6L642.6 431.6" stroke="#fff" stroke-width="1.1" fill="none"/>
</g>

<!-- 32_right.svg -->
<g id="p62">
<path d="M651 249.6L652 252L652.2 261.2L654.9 263.8L657.4 261.2L657.4 252L658.6 249.6Z" fill="#fff" stroke="#000" stroke-width="1.1" stroke-linejoin="round"/>
<path d="M646.5 244.2L646.5 246.6C647.5 249 650.5 250.4 654 250.4C657.5 250.4 660.8 249 661.6 246.6L661.6 244.2" fill="#fff" stroke="#000" stroke-width="1.2" stroke-linejoin="round"/>
<ellipse cx="654" cy="243.8" rx="7.5" ry="4.4" fill="#fff" stroke="#000" stroke-width="1.2"/>
<path class="t" d="M654.8 253L654.8 262"/>
<path class="h" d="M659.5 241.5C661 242.6 661.6 244 661.4 245.4" style="stroke-width:1.4"/>
</g>
<g id="p95">
<path d="M873.9 383.5L875.6 381.1L881.5 379.4L890.3 376.2L898.5 376.2L898.8 378.8L896.1 379.7L899 381.1L903.1 380.3L907.8 381.4L907.2 383.2L903.1 384.4L899 388.2L892.6 387.9L886.2 389.6L883.8 390.5L878.3 389.3L881.5 385.8L882.6 384.4L877.4 385.2L873.9 384.9Z" fill="#fff" stroke="#000" stroke-width="1.2" stroke-linejoin="round"/>
<path class="k" d="M894.5 376.2L898.5 376.2L898.8 378.8L896.1 379.7L894.3 379Z M902.5 380.4L907.8 381.4L907.2 383.2L903.1 384.4L900 387.4L899 385.5Z"/>
<path class="k" d="M878.3 389.3L881.8 385.6L884 385.2L887 386.8L893 385.4L899.5 384L899 388.2L892.6 387.9L883.8 390.5Z"/>
<circle cx="884.8" cy="388.4" r="0.9" fill="#fff"/><circle cx="897.4" cy="386.4" r="0.8" fill="#fff"/><circle cx="883.8" cy="385" r="1" fill="#fff"/>
<circle class="k" cx="886.8" cy="380.8" r="0.8"/><rect class="k" x="891" y="382.8" width="2" height="0.9"/>
<path class="k" d="M874.2 383.3L876 381.2L880 381.4L881 382.4L877 382.8L877.6 384.9L874 384.8Z"/>
<rect x="875.3" y="383" width="1.6" height="1" fill="#fff"/>
</g>
<g id="p126">
<circle cx="849.9" cy="415" r="4.3" fill="#fff" stroke="#000" stroke-width="1.2"/>
<circle cx="850" cy="415" r="1.9" fill="#fff" stroke="#000" stroke-width="1"/>
</g>
<g id="p115">
<path d="M872.4 432.4L878.5 430.4L883 430.7L883.7 434.4L879.5 436.4L875.4 437.6L872.4 437.6Z" fill="#fff" stroke="#000" stroke-width="1.7" stroke-linejoin="round"/>
<path class="p" d="M876.4 433L876.4 436.6M878.4 432.6L880 432.4L879.8 434.6M881 431.8L882.4 432.6"/>
</g>
<g id="p111">
<path d="M882.6 443.2L884.4 441.4L894.1 440.6L896.7 442L896.5 446.3L887.8 449.3L882.4 449.3Z" fill="#fff" stroke="#000" stroke-width="1.5" stroke-linejoin="round"/>
<path class="p" d="M885 443.6L889.5 442.8L888.5 445.2L886 445.4M891 442.4L894 442.2M890.5 444.6L893.5 444M885.2 447.2L886.5 446.4M889.5 447.2L892 446.4L894.5 445.8"/>
</g>
<g id="p120">
<path d="M900.5 451.2L905.5 450L910.5 449.5L912.4 451.5L912.6 455.6L910.5 457.3L905 458.2L901.5 459Z" fill="#fff" stroke="#000" stroke-width="1.1" stroke-linejoin="round" stroke-dasharray="4 0.8"/>
<path class="k" d="M897.4 451.6L899 450.2L902.3 451L902.8 456.6L904.5 458.4L901.5 459.9L899.6 458.6L899.4 453.6Z"/>
<circle cx="909.9" cy="454.4" r="1.7" fill="#fff" stroke="#000" stroke-width="1"/>
<path class="h" d="M903.4 456.4L906.5 456.2L906.6 454.4" style="stroke-width:1.2"/>
</g>

<!-- 33_rods.svg -->
<g id="p67">
<path d="M709.8 466.3L709.8 460.4C730 453.5 752 446.2 773.2 440.2C793 434.6 812 430.5 831.8 427.5L831.8 432.8C812 436 793 440.5 773.2 446.3C752 452.4 730 459.5 709.8 466.3Z" fill="#fff" stroke="none"/>
<path d="M709.8 460.4C730 453.5 752 446.2 773.2 440.2C793 434.6 812 430.5 831.8 427.5" fill="none" stroke="#000" stroke-width="1" stroke-dasharray="5 1.2 1.2 1.2"/>
<path d="M709.8 460.4L709.8 466.3C730 459.5 752 452.4 773.2 446.3C793 440.5 812 436 831.8 432.8L831.8 427.5" fill="none" stroke="#000" stroke-width="1.2" stroke-linejoin="round"/>
</g>
<g id="p64">
<!-- rod body -->
<path d="M741 479.2L763.4 473.2L763.4 472.4L771.4 472L779.4 470.5L782.6 468L793.8 465.6L801.4 462.8L813.4 459.6L820.6 462L821 457.6L832.2 455.2L849.4 450.8L855.8 449.6L863.8 449.2L869 450L869 455.6L863.8 457.6L855.8 457.2L849.4 456.2L832.2 459.8L825.8 462.6L825.6 466.6L817.4 467.8L811 465.6L801.4 468L795 470.6L784.6 472.8L784.4 477.4L779.4 478.2L771.4 479.4L763.4 479.4L741 486Z" fill="#fff" stroke="#000" stroke-width="1.45" stroke-linejoin="round"/>
<path d="M741 479.4L763.4 473.4" fill="none" stroke="#000" stroke-width="1.6" stroke-dasharray="3.2 1"/>
<path d="M832.5 455.4L849.4 451" fill="none" stroke="#000" stroke-width="1.8"/>
<path class="h" d="M764 472.6L764 479.2M771.6 472.2L771.6 479.2M793.8 465.6L793.8 471M801.4 462.8L801.4 468M849.6 450.6L849.6 456.4M855.8 449.6L855.8 457.2" style="stroke-width:1.4"/>
<ellipse cx="782" cy="473" rx="2.3" ry="4.8" fill="#000" transform="rotate(8 782 473)"/>
<ellipse cx="782.4" cy="472.4" rx="0.7" ry="2.6" fill="#fff" transform="rotate(8 782.4 472.4)"/>
<ellipse cx="823.2" cy="462" rx="2.4" ry="4.8" fill="#000" transform="rotate(8 823.2 462)"/>
<ellipse cx="824" cy="462.8" rx="0.6" ry="1.8" fill="#fff" transform="rotate(8 824 462.8)"/>
<path class="k" d="M863.8 449.2L869 450L869 455.6L863.8 457.6Z"/><ellipse cx="867" cy="452.8" rx="1.1" ry="2" fill="#fff"/>
<circle cx="860" cy="453.6" r="2.4" fill="#fff" stroke="#000" stroke-width="1.2"/>
<!-- left end -->
<path d="M730.2 486.5L735 485L735 481.4L739 480.6L740.6 484.5L740.6 489.5L736 491L731 492.4Z" fill="#fff" stroke="#000" stroke-width="1.5" stroke-linejoin="round"/>
<path class="h" d="M735.5 481.5L736 490.5M737.8 483.8L740 486" style="stroke-width:1.3"/>
</g>

<!-- 90_logo.svg -->
<g id="logo">
<g fill="none" stroke="#dcddd7" stroke-linecap="round">
<path d="M895 727C897 723.5 906 721.5 918 721.5" stroke-width="1.6"/>
<path d="M893.5 727.5C900 734 930 736.6 958 735.5C968 735 976 733.6 981 731.5" stroke-width="2.6"/>
<path d="M897 733.5C910 738.6 945 738.8 968 736" stroke-width="2.2"/>
<path d="M925 727.5C940 731 958 731.6 978 729.5" stroke-width="2.4"/>
</g>
<clipPath id="gc"><path d="M880 640L1024 640L1024 750L965 750L966 724.8C956 724 946 722.4 938 719.6C932 717.6 926 714 922 709L917.5 699.5L905 694L880 694Z"/></clipPath><path d="M977.0 721.2L982.9 724.9L981.2 728.2L974.8 725.5L972.4 727.4L976.3 732.2L972.2 733.7L967.0 729.4L963.1 729.9L964.2 734.6L958.6 734.0L955.9 729.2L951.2 728.0L949.2 731.6L943.5 729.1L943.8 724.8L939.6 722.2L934.9 723.8L930.3 720.0L933.6 717.2L930.7 713.8L924.5 713.2L922.1 708.9L927.6 708.2L926.8 704.8L920.4 702.0L920.7 698.2L927.3 699.9L928.6 697.3L923.5 692.9L926.5 690.5L932.5 694.1L935.8 692.8L933.2 688.0L938.2 687.4L942.3 692.1L946.7 692.6L947.2 688.3L953.0 689.8L954.2 694.6L958.8 696.5L962.3 693.8L967.6 697.0L965.7 700.7L969.4 703.8L975.0 703.3L978.6 707.5L974.0 709.3L975.9 712.7L982.4 714.5L983.5 718.7L977.3 718.2ZM964.9 714.6L964.2 715.8L963.2 716.9L961.8 717.8L960.2 718.5L958.3 718.9L956.3 719.1L954.0 719.0L951.7 718.7L949.4 718.2L947.1 717.4L944.8 716.4L942.7 715.3L940.8 713.9L939.1 712.5L937.7 711.0L936.6 709.4L935.9 707.8L935.5 706.3L935.4 704.8L935.7 703.4L936.4 702.2L937.4 701.1L938.8 700.2L940.4 699.5L942.3 699.1L944.3 698.9L946.6 699.0L948.9 699.3L951.2 699.8L953.5 700.6L955.8 701.6L957.9 702.7L959.8 704.1L961.5 705.5L962.9 707.0L964.0 708.6L964.7 710.2L965.1 711.7L965.2 713.2Z" fill="#e8829b" fill-rule="evenodd" clip-path="url(#gc)"/>
<path d="M919.5 685.2C910 686.8 902.6 691 901.6 697.5C900.6 706 908 715 921 720.6C934 725.6 951 726.8 966 725.2C952 724.6 938 722.2 927.5 717.2C915 711.4 906.6 703.5 907.4 696.2C908 691 912.5 687.4 919.5 685.2Z" fill="#e8829b"/>
<path d="M901.6 709.4L901.8 716.5C905 721.6 911 724.6 918 726.9C927 730.4 937 732.4 946 732.8C952 733 957 732.2 961 730.8C955 731.2 950 730.4 945 728.6C936 727 928 724.4 921.4 721.6C914.5 718.6 909 715.5 906 712.1Z" fill="#e8829b"/>
<g font-family="Liberation Sans, sans-serif" font-size="18.4" text-anchor="middle">
<text transform="translate(875.41 724.64) rotate(-81.29)" fill="#8a8a8a">T</text><text transform="translate(878.89 711.63) rotate(-68.78)" fill="#8a8a8a">R</text><text transform="translate(885.68 698.84) rotate(-55.32)" fill="#8a8a8a">U</text><text transform="translate(895.26 687.98) rotate(-41.86)" fill="#8a8a8a">C</text><text transform="translate(906.66 679.88) rotate(-28.88)" fill="#8a8a8a">K</text><text transform="translate(920.56 674.29) rotate(-14.94)" fill="#8a8a8a">M</text><text transform="translate(935.41 672.21) rotate(-1.01)" fill="#8a8a8a">A</text><text transform="translate(947.83 673.25) rotate(10.56)" fill="#8a8a8a">L</text><text transform="translate(958.84 676.38) rotate(21.19)" fill="#8a8a8a">L</text><text transform="translate(969.94 682.03) rotate(32.76)" fill="#e8829b">P</text><text transform="translate(980.41 690.51) rotate(45.28)" fill="#e8829b">A</text><text transform="translate(989.06 701.49) rotate(58.26)" fill="#e8829b">R</text><text transform="translate(994.85 713.65) rotate(70.77)" fill="#e8829b">T</text><text transform="translate(997.81 726.27) rotate(82.81)" fill="#e8829b">S</text>
</g>
</g>

<g class="lb">
<text class="m" x="586.4" y="146.8" textLength="12.1" lengthAdjust="spacingAndGlyphs">59</text>
<text class="m" x="663.4" y="260.0" textLength="12.1" lengthAdjust="spacingAndGlyphs">62</text>
<text class="b" x="500.8" y="265.0" textLength="13.2" lengthAdjust="spacingAndGlyphs">27</text>
<text class="b" x="274.6" y="261.8" textLength="12.1" lengthAdjust="spacingAndGlyphs">71</text>
<text class="b" x="125.8" y="343.6" textLength="12.1" lengthAdjust="spacingAndGlyphs">29</text>
<text class="m" x="264.8" y="381.0" textLength="12.1" lengthAdjust="spacingAndGlyphs">75</text>
<text class="b" x="246.0" y="413.4" textLength="12.1" lengthAdjust="spacingAndGlyphs">89</text>
<text class="b" x="190.5" y="448.9" textLength="12.1" lengthAdjust="spacingAndGlyphs">81</text>
<text class="b" x="241.8" y="461.8" textLength="12.1" lengthAdjust="spacingAndGlyphs">78</text>
<text class="b" x="278.5" y="446.1" textLength="12.1" lengthAdjust="spacingAndGlyphs">87</text>
<text class="b" x="306.5" y="440.4" textLength="12.1" lengthAdjust="spacingAndGlyphs">85</text>
<text class="m" x="448.4" y="375.1" textLength="12.1" lengthAdjust="spacingAndGlyphs">31</text>
<text class="r" x="474.9" y="405.6" textLength="12.1" lengthAdjust="spacingAndGlyphs">52</text>
<text class="b" x="486.6" y="465.0" textLength="12.1" lengthAdjust="spacingAndGlyphs">54</text>
<text class="b" x="522.6" y="409.3" textLength="12.1" lengthAdjust="spacingAndGlyphs">45</text>
<text class="m" x="558.5" y="442.8" textLength="12.1" lengthAdjust="spacingAndGlyphs">49</text>
<text class="b" x="584.7" y="381.9" textLength="12.1" lengthAdjust="spacingAndGlyphs">35</text>
<text class="b" x="633.5" y="359.0" textLength="12.1" lengthAdjust="spacingAndGlyphs">41</text>
<text class="r" x="699.8" y="369.8" textLength="12.1" lengthAdjust="spacingAndGlyphs">58</text>
<text class="m" x="609.0" y="453.3" textLength="12.1" lengthAdjust="spacingAndGlyphs">43</text>
<text class="m" x="644.6" y="448.7" textLength="12.1" lengthAdjust="spacingAndGlyphs">37</text>
<text class="r" x="867.7" y="290.4" textLength="12.1" lengthAdjust="spacingAndGlyphs">91</text>
<text class="b" x="912.7" y="385.8" textLength="12.1" lengthAdjust="spacingAndGlyphs">95</text>
<text class="m" x="858.8" y="414.0" textLength="18.1" lengthAdjust="spacingAndGlyphs">126</text>
<text class="b" x="886.4" y="430.0" textLength="18.1" lengthAdjust="spacingAndGlyphs">115</text>
<text class="r" x="900.3" y="442.7" textLength="18.1" lengthAdjust="spacingAndGlyphs">111</text>
<text class="m" x="915.7" y="457.4" textLength="18.1" lengthAdjust="spacingAndGlyphs">120</text>
<text class="r" x="753.8" y="436.0" textLength="12.1" lengthAdjust="spacingAndGlyphs">67</text>
<text class="m" x="795.6" y="483.6" textLength="12.1" lengthAdjust="spacingAndGlyphs">64</text>
</g>
</svg>
</body></html>
